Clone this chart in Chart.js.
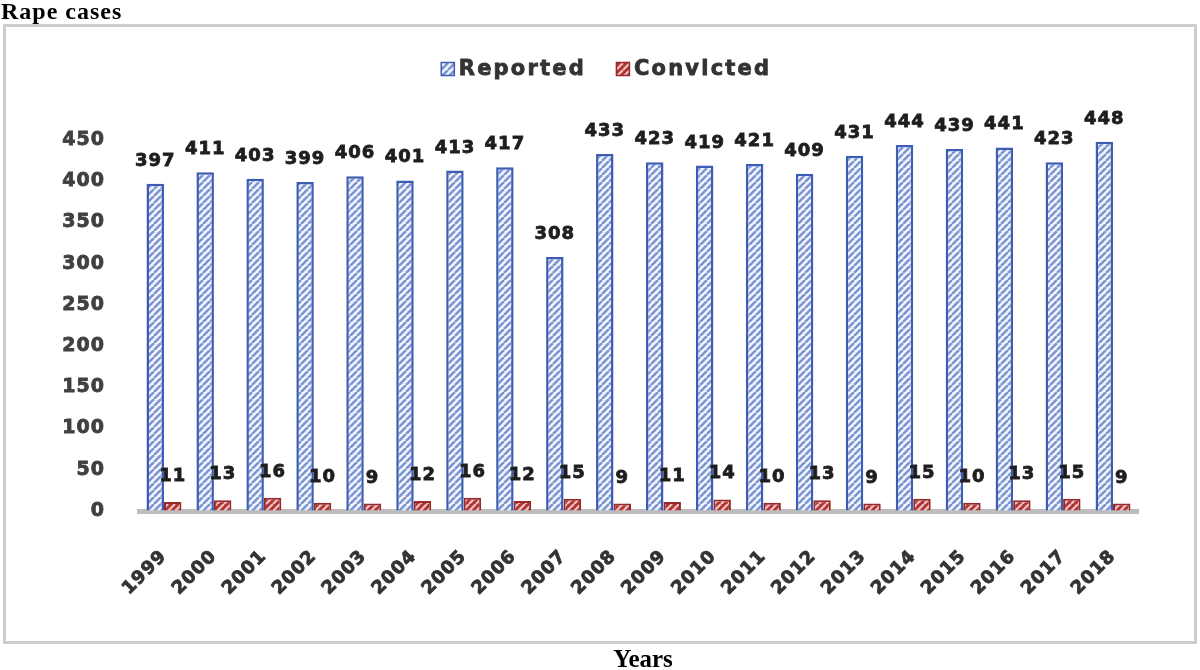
<!DOCTYPE html>
<html>
<head>
<meta charset="utf-8">
<script src="https://cdn.jsdelivr.net/npm/chart.js@4.4.1/dist/chart.umd.min.js"></script>
<style>
html,body{margin:0;padding:0;background:#fff}
#wrap{width:1200px;height:670px;position:relative}
</style>
</head>
<body>
<div id="wrap"><canvas id="mychart" width="1200" height="670"></canvas></div>
<script>
// data
const years=['1999','2000','2001','2002','2003','2004','2005','2006','2007','2008','2009','2010','2011','2012','2013','2014','2015','2016','2017','2018'];
const reported=[397,411,403,399,406,401,413,417,308,433,423,419,421,409,431,444,439,441,423,448];
const convicted=[11,13,16,10,9,12,16,12,15,9,11,14,10,13,9,15,10,13,15,9];
const seriesNames=['Reported','Convicted'];
const yMin=0, yMax=450, yStep=50;
const chartTitle='Rape cases';
const xTitle='Years';

function hatch(bg,fg,s,lw){
	var c=document.createElement('canvas');
	c.width=s; c.height=s;
	var g=c.getContext('2d');
	g.fillStyle=bg; g.fillRect(0,0,s,s);
	g.strokeStyle=fg; g.lineWidth=lw;
	g.beginPath();
	for(var k=-s;k<=s;k+=s){
		g.moveTo(k,s); g.lineTo(k+s,0);
	}
	g.stroke();
	return g.createPattern(c,'repeat');
}

var blueFill=hatch('#f2f5fc','#7d95d3',7,2.6);
var redFill=hatch('#b23535','#f0c4c4',7,2.2);
var blueLine='#3d5cb4';
var redLine='#962a2a';

var decor={
	id:'decor',
	beforeDraw(chart){
		var ctx=chart.ctx;
		ctx.save();
		ctx.letterSpacing='0px';
		ctx.fillStyle='#fff';
		ctx.fillRect(0,0,chart.width,chart.height);
		// frame
		ctx.strokeStyle='#cdcdcd';
		ctx.lineWidth=3;
		ctx.strokeRect(4.5,25.5,1191,617);
		// titles
		ctx.fillStyle='#000';
		ctx.font='bold 24px "Liberation Serif"';
		ctx.letterSpacing='1px';
		ctx.textAlign='left';
		ctx.textBaseline='alphabetic';
		ctx.fillText(chartTitle,1,19);
		ctx.letterSpacing='0px';
		ctx.font='bold 25px "Liberation Serif"';
		ctx.textAlign='center';
		ctx.fillText(xTitle,643,667);
		// legend
		ctx.font='bold 21px "DejaVu Sans"';
		ctx.letterSpacing='2.2px';
		var fills=[blueFill,redFill], lines=[blueLine,redLine];
		var w=seriesNames.map(function(t){return ctx.measureText(t).width;});
		var total=14+4+w[0]+30+14+4+w[1];
		var x=606-total/2;
		ctx.textAlign='left';
		ctx.textBaseline='middle';
		for(var i=0;i<2;i++){
			ctx.fillStyle=fills[i];
			ctx.fillRect(x,62,14,14);
			ctx.strokeStyle=lines[i];
			ctx.lineWidth=1.5;
			ctx.strokeRect(x+0.5,62.5,13,13);
			ctx.fillStyle='#333';
			ctx.strokeStyle='#333';
			ctx.lineWidth=0.8;
			ctx.fillText(seriesNames[i],x+18,70);
			ctx.strokeText(seriesNames[i],x+18,70);
			x+=18+w[i]+30;
		}
		ctx.restore();
		ctx.letterSpacing='1px';
	},
	afterDatasetsDraw(chart){
		var ctx=chart.ctx;
		ctx.save();
		ctx.letterSpacing='1px';
		ctx.font='bold 18px "DejaVu Sans"';
		ctx.fillStyle='#1e1e1e';
		ctx.strokeStyle='#1e1e1e';
		ctx.lineWidth=0.8;
		ctx.textAlign='center';
		ctx.textBaseline='alphabetic';
		chart.data.datasets.forEach(function(ds,i){
			var meta=chart.getDatasetMeta(i);
			var off=i==0?18:21;
			meta.data.forEach(function(bar,j){
				ctx.fillText(String(ds.data[j]),bar.x,bar.y-off);
				ctx.strokeText(String(ds.data[j]),bar.x,bar.y-off);
			});
		});
		ctx.restore();
	}
};

var ctx=document.getElementById('mychart').getContext('2d');
var myChart=new Chart(ctx,{
	type:'bar',
	data:{
		labels:years,
		datasets:[{
			label:seriesNames[0],
			data:reported,
			backgroundColor:blueFill,
			borderColor:blueLine,
			borderWidth:2.5,
			categoryPercentage:0.7,
			barPercentage:1.0
		},{
			label:seriesNames[1],
			data:convicted,
			backgroundColor:redFill,
			borderColor:redLine,
			borderWidth:2,
			categoryPercentage:0.7,
			barPercentage:1.0
		}]
	},
	options:{
		responsive:false,
		animation:false,
		devicePixelRatio:1,
		layout:{padding:{top:140,left:0,right:62,bottom:0}},
		plugins:{
			legend:{display:false},
			title:{display:false},
			tooltip:{enabled:false}
		},
		scales:{
			x:{
				grid:{display:true,color:'transparent',drawTicks:false},
				border:{display:true,color:'#bdbdbd',width:5},
				ticks:{
					font:{family:'DejaVu Sans',size:18,weight:'bold'},
					color:'#333',
					textStrokeColor:'#333',
					textStrokeWidth:0.8,
					maxRotation:45,minRotation:45,
					padding:35,autoSkip:false
				},
				afterFit(scale){scale.height=159;}
			},
			y:{
				min:yMin,max:yMax,
				grid:{display:true,color:'transparent',drawTicks:false},
				border:{display:false},
				ticks:{
					stepSize:yStep,
					font:{family:'DejaVu Sans',size:19,weight:'bold'},
					color:'#404040',
					textStrokeColor:'#404040',
					textStrokeWidth:0.8,
					padding:34
				},
				afterFit(scale){scale.width=139;}
			}
		}
	},
	plugins:[decor]
});
</script>
</body>
</html>
